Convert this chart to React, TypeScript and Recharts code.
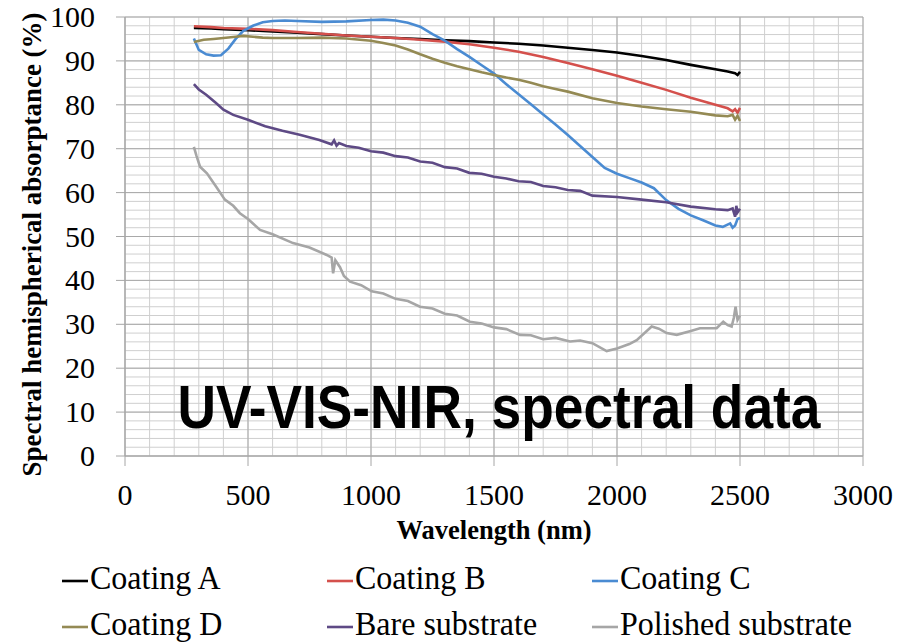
import React from 'react';
import { LineChart, Line, XAxis, YAxis, CartesianGrid, Label } from 'recharts';

// ---- Data ----
const xTicks = [0, 500, 1000, 1500, 2000, 2500, 3000];
const yTicks = [0, 10, 20, 30, 40, 50, 60, 70, 80, 90, 100];
const minorXValues = Array.from({ length: 31 }, (_, i) => i * 100);
const minorYValues = Array.from({ length: 51 }, (_, i) => i * 2);

const seriesNames = ['Coating A', 'Coating B', 'Coating C', 'Coating D', 'Bare substrate', 'Polished substrate'];
const seriesColors = ['#000000', '#d4504c', '#4a8bd2', '#948a54', '#5e4a85', '#a6a6a6'];

const coatingAWl = [280, 350, 400, 500, 600, 700, 800, 900, 1000, 1100, 1200, 1300, 1400, 1500, 1600, 1700, 1800, 1900, 2000, 2100, 2200, 2300, 2400, 2450, 2480, 2490, 2500];
const coatingAVal = [97.5, 97.4, 97.2, 97.0, 96.7, 96.4, 96.1, 95.8, 95.5, 95.2, 95.0, 94.7, 94.5, 94.2, 93.9, 93.5, 93.0, 92.5, 91.9, 91.1, 90.2, 89.1, 88.1, 87.6, 87.2, 86.8, 87.5];

const coatingBWl = [280, 350, 400, 500, 600, 700, 800, 900, 1000, 1100, 1200, 1300, 1400, 1500, 1600, 1700, 1800, 1900, 2000, 2100, 2200, 2300, 2400, 2450, 2470, 2480, 2490, 2500];
const coatingBVal = [97.9, 97.7, 97.5, 97.3, 97.0, 96.6, 96.2, 95.8, 95.5, 95.2, 94.8, 94.4, 93.8, 93.0, 92.1, 90.9, 89.5, 88.1, 86.6, 85.0, 83.4, 81.6, 80.0, 79.2, 78.5, 79.0, 78.2, 79.3];

const coatingCWl = [280, 300, 330, 360, 390, 420, 450, 480, 520, 560, 600, 650, 700, 800, 900, 1000, 1050, 1100, 1150, 1200, 1250, 1300, 1350, 1400, 1450, 1500, 1550, 1600, 1650, 1700, 1750, 1800, 1850, 1900, 1950, 2000, 2050, 2100, 2150, 2200, 2250, 2300, 2350, 2400, 2430, 2460, 2470, 2480, 2490, 2500];
const coatingCVal = [95.1, 92.5, 91.5, 91.2, 91.3, 92.8, 95.0, 96.8, 98.0, 98.8, 99.1, 99.2, 99.1, 98.9, 99.0, 99.3, 99.4, 99.2, 98.7, 97.8, 96.1, 94.6, 92.7, 90.9, 89.0, 87.1, 84.7, 82.4, 80.1, 77.8, 75.5, 73.1, 70.6, 68.1, 65.6, 64.3, 63.3, 62.3, 61.0, 58.3, 56.3, 54.8, 53.7, 52.5, 52.2, 53.0, 52.0, 52.5, 54.0, 54.2];

const coatingDWl = [280, 320, 360, 400, 450, 480, 520, 560, 600, 700, 800, 900, 1000, 1050, 1100, 1150, 1200, 1250, 1300, 1350, 1400, 1450, 1500, 1550, 1600, 1650, 1700, 1750, 1800, 1900, 2000, 2100, 2200, 2300, 2400, 2450, 2470, 2480, 2490, 2500];
const coatingDVal = [94.3, 94.8, 95.0, 95.2, 95.5, 95.7, 95.5, 95.3, 95.2, 95.2, 95.3, 95.1, 94.6, 94.1, 93.5, 92.6, 91.5, 90.5, 89.6, 88.8, 88.1, 87.4, 86.8, 86.2, 85.7, 85.0, 84.2, 83.6, 83.0, 81.5, 80.4, 79.6, 79.0, 78.4, 77.6, 77.4, 77.7, 76.6, 77.5, 76.3];

const bareWl = [280, 300, 330, 370, 400, 440, 500, 570, 640, 710, 790, 840, 850, 860, 870, 900, 950, 1000, 1050, 1100, 1150, 1200, 1250, 1300, 1350, 1400, 1450, 1500, 1550, 1600, 1650, 1700, 1750, 1800, 1850, 1900, 2000, 2100, 2200, 2300, 2400, 2450, 2470, 2480, 2485, 2490, 2500];
const bareVal = [84.7, 83.5, 82.3, 80.4, 78.9, 77.7, 76.6, 75.1, 74.1, 73.2, 72.0, 71.0, 71.9, 70.7, 71.3, 70.6, 70.2, 69.4, 69.1, 68.3, 68.0, 67.1, 66.8, 65.8, 65.5, 64.5, 64.3, 63.6, 63.2, 62.6, 62.4, 61.5, 61.2, 60.6, 60.4, 59.3, 59.0, 58.4, 57.8, 56.8, 56.2, 56.0, 56.4, 54.5, 57.0, 55.5, 56.3];

const polishedWl = [280, 290, 305, 333, 370, 406, 440, 467, 500, 549, 600, 683, 750, 820, 840, 846, 855, 874, 890, 915, 960, 1003, 1050, 1100, 1150, 1199, 1250, 1300, 1350, 1402, 1450, 1500, 1550, 1606, 1650, 1700, 1750, 1809, 1850, 1900, 1958, 2000, 2050, 2080, 2141, 2170, 2202, 2243, 2300, 2337, 2405, 2432, 2450, 2466, 2475, 2482, 2490, 2500];
const polishedVal = [70.4, 68.5, 65.9, 64.4, 61.4, 58.4, 57.0, 55.3, 54.0, 51.5, 50.5, 48.5, 47.5, 45.8, 45.2, 41.6, 44.6, 43.0, 41.0, 39.7, 38.9, 37.5, 37.0, 35.8, 35.3, 34.0, 33.6, 32.4, 32.0, 30.6, 30.2, 29.3, 28.9, 27.6, 27.5, 26.6, 26.9, 26.1, 26.3, 25.7, 23.9, 24.5, 25.5, 26.4, 29.5, 29.0, 28.0, 27.6, 28.5, 29.1, 29.1, 30.6, 29.8, 29.5, 31.5, 34.0, 31.0, 32.0];

const seriesWl = [coatingAWl, coatingBWl, coatingCWl, coatingDWl, bareWl, polishedWl];
const seriesVal = [coatingAVal, coatingBVal, coatingCVal, coatingDVal, bareVal, polishedVal];

const seriesData = seriesWl.map((wl, i) => wl.map((x, j) => ({ x, y: seriesVal[i][j] })));

const serif = '"Liberation Serif", "Times New Roman", serif';
const serifStyle = { fontFamily: serif };

const XTick = (props: any) => {
  const { x, y, payload } = props;
  return (
    <text x={x} y={y + 21} textAnchor="middle" style={serifStyle} fontSize={30} fill="#000">
      {payload.value}
    </text>
  );
};

const YTick = (props: any) => {
  const { x, y, payload } = props;
  return (
    <text x={x} y={y + 10} textAnchor="end" style={serifStyle} fontSize={30} fill="#000">
      {payload.value}
    </text>
  );
};

const YTitle = (props: any) => {
  const vb = props.viewBox || {};
  const cx = 41;
  const cy = vb.y + vb.height / 2 + 8;
  return (
    <text
      x={cx}
      y={cy}
      transform={`rotate(-90, ${cx}, ${cy})`}
      textAnchor="middle"
      style={serifStyle}
      fontWeight="bold"
      fontSize={27}
      fill="#000"
    >
      Spectral hemispherical absorptance (%)
    </text>
  );
};

const XTitle = (props: any) => {
  const vb = props.viewBox || {};
  return (
    <text
      x={vb.x + vb.width / 2}
      y={539}
      textAnchor="middle"
      style={serifStyle}
      fontWeight="bold"
      fontSize={26.5}
      fill="#000"
    >
      Wavelength (nm)
    </text>
  );
};

const legendCols = [62, 327, 592];
const legendRows = [581, 627];

export default function App() {
  return (
    <div style={{ position: 'absolute', left: 0, top: 0, width: 918, height: 643, background: '#fff', overflow: 'hidden' }}>
      <LineChart width={918} height={643} margin={{ top: 17, right: 55, left: 0, bottom: 97 }}>
        <CartesianGrid verticalValues={minorXValues} horizontalValues={minorYValues} stroke="#cfcfcf" strokeWidth={1} />
        <CartesianGrid verticalValues={xTicks} horizontalValues={yTicks} stroke="#a9a9a9" strokeWidth={1} />
        <XAxis
          type="number"
          dataKey="x"
          domain={[0, 3000]}
          ticks={xTicks}
          interval={0}
          height={90}
          stroke="#a6a6a6"
          tickSize={10}
          tickMargin={18}
          tick={<XTick />}
          allowDataOverflow
        >
          <Label content={XTitle} />
        </XAxis>
        <YAxis
          type="number"
          domain={[0, 100]}
          ticks={yTicks}
          interval={0}
          width={125}
          stroke="#a6a6a6"
          tickSize={9}
          tickMargin={21}
          tick={<YTick />}
          allowDataOverflow
        >
          <Label content={YTitle} />
        </YAxis>
        {seriesData.map((d, i) => (
          <Line
            key={seriesNames[i]}
            data={d}
            dataKey="y"
            name={seriesNames[i]}
            type="linear"
            stroke={seriesColors[i]}
            strokeWidth={2.6}
            dot={false}
            activeDot={false}
            isAnimationActive={false}
          />
        ))}
      </LineChart>
      <svg width={918} height={643} style={{ position: 'absolute', left: 0, top: 0, pointerEvents: 'none' }}>
        <text
          transform="translate(499,428) scale(0.86,1)"
          x={0}
          y={0}
          textAnchor="middle"
          fontFamily="Liberation Sans"
          fontWeight="bold"
          fontSize={62}
          fill="#000"
        >
          UV-VIS-NIR, spectral data
        </text>
        {seriesNames.map((name, i) => {
          const x = legendCols[i % 3];
          const y = legendRows[Math.floor(i / 3)];
          return (
            <g key={name}>
              <line x1={x} y1={y} x2={x + 26} y2={y} stroke={seriesColors[i]} strokeWidth={2.6} />
              <text
                transform={`translate(${x + 28},${y + 8}) scale(0.97,1)`}
                x={0}
                y={0}
                style={serifStyle}
                fontSize={33}
                fill="#000"
              >
                {name}
              </text>
            </g>
          );
        })}
      </svg>
    </div>
  );
}
